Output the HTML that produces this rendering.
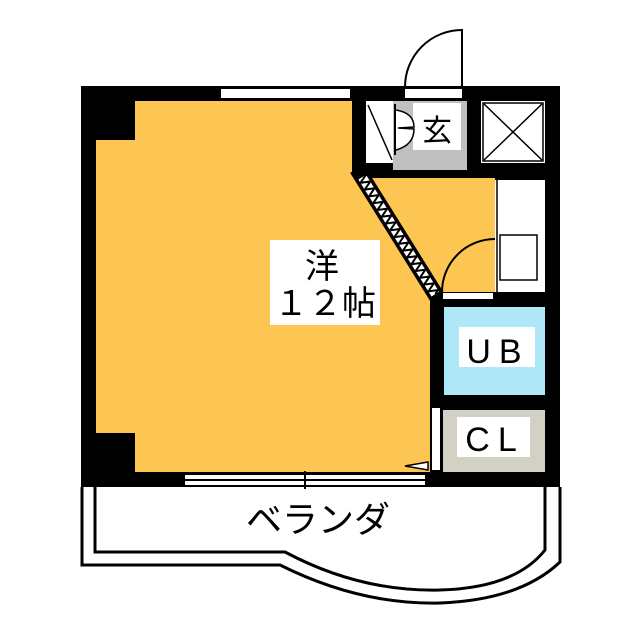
<!DOCTYPE html>
<html><head><meta charset="utf-8"><style>html,body{margin:0;padding:0;background:#fff}svg{display:block}</style></head><body>
<svg width="640" height="640" viewBox="0 0 640 640" xmlns="http://www.w3.org/2000/svg">
<!-- balcony -->
<path d="M82,487 V565 H280 Q360,605 440,603 Q520,600 560,562 V487" fill="none" stroke="#000" stroke-width="3"/>
<path d="M95,487 V552 H285 Q360,592 440,590 Q515,588 545,550 V487" fill="none" stroke="#000" stroke-width="3"/>
<!-- walls base -->
<rect x="81" y="86" width="479" height="401" fill="#000"/>
<!-- main room -->
<polygon points="96,140 135,140 135,101 352,101 352,172 440,300 430,300 430,472 135,472 135,433 96,433" fill="#fdc653"/>
<!-- corridor/kitchen yellow -->
<polygon points="360,178 495,178 495,292 440,292 440,300" fill="#fdc653"/>
<!-- top window -->
<rect x="221" y="89" width="129" height="9" fill="#fff"/>
<!-- entrance door opening -->
<rect x="405" y="89" width="57" height="9" fill="#fff"/>
<path d="M405,87 A57,57 0 0 1 462,30 V87" fill="none" stroke="#000" stroke-width="2"/>
<!-- shoe box -->
<rect x="366" y="101" width="27" height="62" fill="#fff"/>
<line x1="368" y1="105" x2="392" y2="160" stroke="#000" stroke-width="1.5"/>
<!-- genkan -->
<rect x="393" y="101" width="74" height="69" fill="#c0c0c0"/>
<rect x="413" y="103" width="48" height="47" fill="#fff"/>
<path d="M395,104 L395,155" stroke="#000" stroke-width="2"/>
<path d="M396,110 Q414,113 414,127 L398,128 L414,129 Q414,145 396,150" fill="#fff" stroke="#000" stroke-width="1.5"/>
<text x="437" y="141" font-family="Liberation Sans,'Noto Sans CJK JP',sans-serif" font-size="30" text-anchor="middle">玄</text>
<!-- X box -->
<rect x="481" y="101" width="64" height="62" fill="#fff"/>
<path d="M484,104 L542,160 M542,104 L484,160" stroke="#000" stroke-width="1.5"/>
<rect x="483" y="103" width="60" height="58" fill="none" stroke="#000" stroke-width="1.5"/>
<!-- kitchen -->
<rect x="495" y="180" width="50" height="112" fill="#fff"/>
<line x1="497" y1="180" x2="497" y2="292" stroke="#000" stroke-width="1.5"/>
<rect x="500" y="235" width="37" height="45" fill="#fff" stroke="#000" stroke-width="1.5"/>
<!-- diagonal partition -->
<g transform="translate(359,172) rotate(58)">
<rect x="-4" y="-8" width="158" height="16" fill="#000"/>
<rect x="6" y="-4.5" width="138" height="9" fill="#fff"/>
<polyline points="6,-4.5 10,4.5 14,-4.5 18,4.5 22,-4.5 26,4.5 30,-4.5 34,4.5 38,-4.5 42,4.5 46,-4.5 50,4.5 54,-4.5 58,4.5 62,-4.5 66,4.5 70,-4.5 74,4.5 78,-4.5 82,4.5 86,-4.5 90,4.5 94,-4.5 98,4.5 102,-4.5 106,4.5 110,-4.5 114,4.5 118,-4.5 122,4.5 126,-4.5 130,4.5 134,-4.5 138,4.5 142,-4.5 144,0" fill="none" stroke="#000" stroke-width="2"/>
</g>
<!-- bath door -->
<rect x="443" y="293" width="50" height="6" fill="#fff"/>
<path d="M442,292 A53,53 0 0 1 495,239" fill="none" stroke="#000" stroke-width="2"/>
<!-- UB -->
<rect x="444" y="307" width="101" height="88" fill="#aee8f8"/>
<rect x="459" y="327" width="76" height="40" fill="#fff"/>
<text x="498" y="363" font-family="Liberation Sans,'Noto Sans CJK JP',sans-serif" font-size="34" text-anchor="middle" letter-spacing="8">UB</text>
<!-- CL -->
<rect x="443" y="410" width="102" height="62" fill="#d3d0c4"/>
<rect x="457" y="417" width="73" height="40" fill="#fff"/>
<text x="495" y="451" font-family="Liberation Sans,'Noto Sans CJK JP',sans-serif" font-size="34" text-anchor="middle" letter-spacing="8">CL</text>
<rect x="432" y="408" width="8" height="62" fill="#fff"/>
<polygon points="428,462 405,466 428,470" fill="#fff" stroke="#000" stroke-width="1.5"/>
<!-- bottom window -->
<rect x="185" y="475" width="240" height="10" fill="#fff"/>
<line x1="185" y1="480" x2="425" y2="480" stroke="#000" stroke-width="2"/>
<line x1="305" y1="471" x2="305" y2="489" stroke="#000" stroke-width="2"/>
<!-- room label -->
<rect x="270" y="240" width="110" height="85" fill="#fff"/>
<text x="322" y="278" font-family="Liberation Sans,'Noto Sans CJK JP',sans-serif" font-size="34" text-anchor="middle">洋</text>
<text x="325" y="315" font-family="Liberation Sans,'Noto Sans CJK JP',sans-serif" font-size="34" text-anchor="middle">１２帖</text>
<!-- balcony label -->
<text x="318" y="532" font-family="Liberation Sans,'Noto Sans CJK JP',sans-serif" font-size="36" text-anchor="middle">ベランダ</text>
</svg>
</body></html>
